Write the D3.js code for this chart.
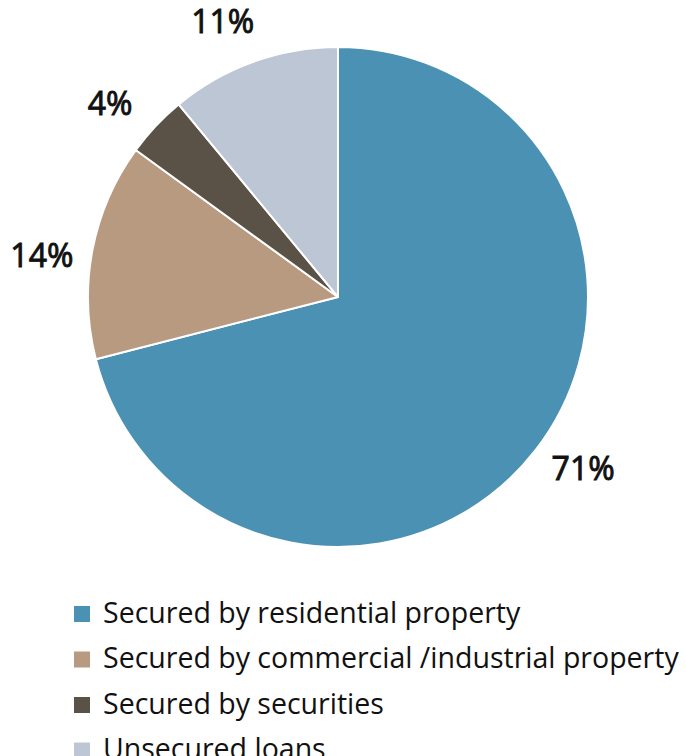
<!DOCTYPE html>
<html>
<head>
<meta charset="utf-8">
<script src="https://cdn.jsdelivr.net/npm/d3@7"></script>
<style>
  body { margin: 0; background: #fff; }
  text { font-family: "Open Sans", "Noto Sans", sans-serif; fill: #111; }
</style>
</head>
<body>
<svg width="686" height="756"></svg>
<script>
var categories = ["Secured by residential property", "Secured by commercial /industrial property", "Secured by securities", "Unsecured loans"];
var values = [71, 14, 4, 11];
var labels = ["71%", "14%", "4%", "11%"];
var colors = ["#4b91b4", "#b89a81", "#5a5247", "#bdc6d5"];

var svg = d3.select("svg"),
    cx = 338, cy = 297, radius = 250,
    labelRadius = 299, labelShift = -0.05;

var pie = d3.pie().sort(null).value(function(d) { return d; });
var arcs = pie(values);

var arc = d3.arc().innerRadius(0).outerRadius(radius);

var g = svg.append("g")
    .attr("transform", "translate(" + cx + "," + cy + ")");

g.selectAll("path")
    .data(arcs)
    .enter().append("path")
    .attr("d", arc)
    .attr("fill", function(d, i) { return colors[i]; })
    .attr("stroke", "#fff")
    .attr("stroke-width", 2)
    .attr("stroke-linejoin", "round");

// labels sit just outside the pie, a touch counter-clockwise of mid angle
g.selectAll("text.lbl")
    .data(arcs)
    .enter().append("text")
    .attr("class", "lbl")
    .attr("transform", function(d) {
        var a = (d.startAngle + d.endAngle) / 2 + labelShift;
        return "translate(" + (Math.sin(a) * labelRadius) + "," + (-Math.cos(a) * labelRadius) + ")";
    })
    .attr("text-anchor", "middle")
    .attr("dy", "0.36em")
    .attr("font-size", 32)
    .attr("stroke", "#111")
    .attr("stroke-width", 0.9)
    .text(function(d, i) { return labels[i]; });

// legend
var legend = svg.append("g")
    .attr("transform", "translate(74,606)");

var rows = legend.selectAll("g")
    .data(categories)
    .enter().append("g")
    .attr("transform", function(d, i) { return "translate(0," + (i * 45.5) + ")"; });

rows.append("rect")
    .attr("width", 16)
    .attr("height", 16)
    .attr("fill", function(d, i) { return colors[i]; });

rows.append("text")
    .attr("x", 29)
    .attr("y", 16.5)
    .attr("font-size", 28.5)
    .text(function(d) { return d; });
</script>
</body>
</html>
